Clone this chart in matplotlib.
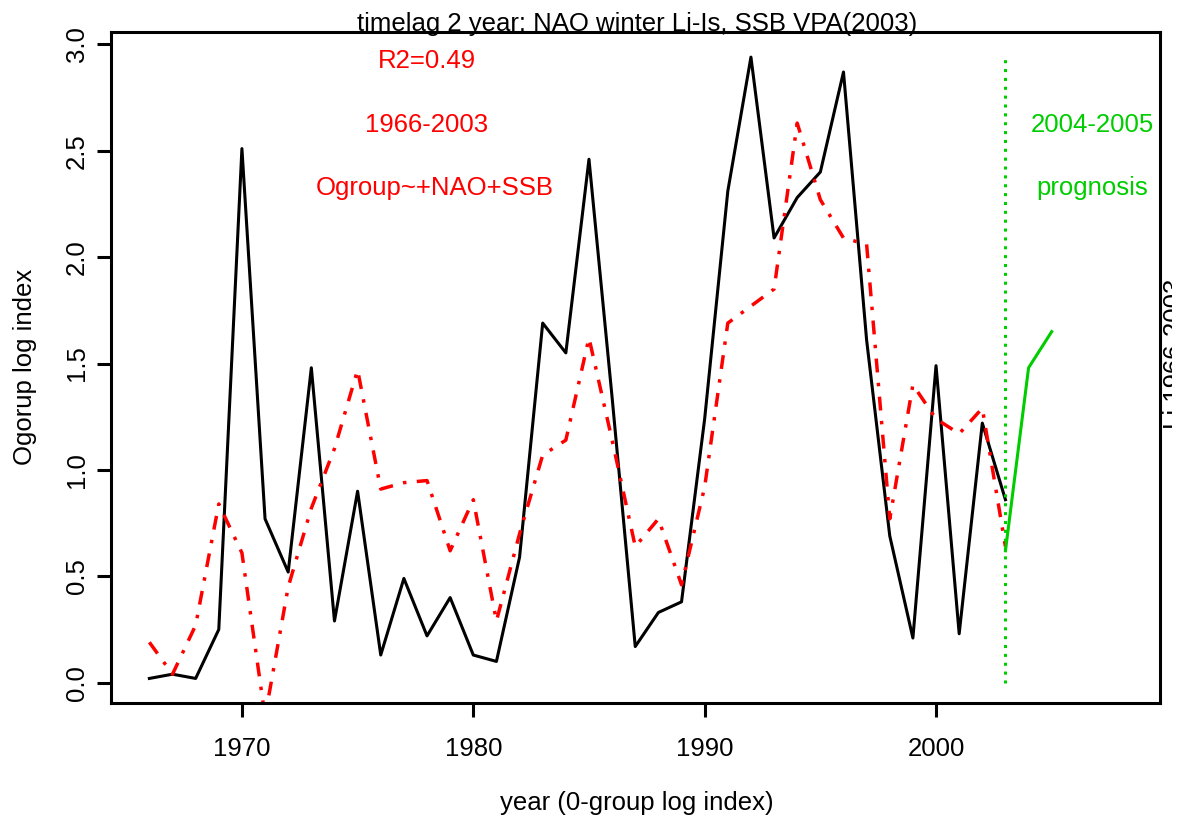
import numpy as np
import matplotlib.pyplot as plt
from matplotlib.transforms import Bbox

plt.rcParams['font.family'] = ['Liberation Sans', 'DejaVu Sans']

# 0-group log index (observed) and fitted values from Ogroup~+NAO+SSB
years = np.arange(1966, 2004)
ogroup = [0.02, 0.04, 0.02, 0.25, 2.51, 0.77, 0.52, 1.48, 0.29, 0.90,
          0.13, 0.49, 0.22, 0.40, 0.13, 0.10, 0.59, 1.69, 1.55, 2.46,
          1.34, 0.17, 0.33, 0.38, 1.24, 2.31, 2.94, 2.09, 2.28, 2.40,
          2.87, 1.61, 0.69, 0.21, 1.49, 0.23, 1.22, 0.86]
fitted = [0.19, 0.04, 0.27, 0.84, 0.61, -0.16, 0.45, 0.82, 1.10, 1.47,
          0.91, 0.94, 0.95, 0.62, 0.86, 0.29, 0.70, 1.07, 1.14, 1.62,
          1.14, 0.64, 0.77, 0.46, 0.92, 1.69, 1.77, 1.85, 2.63, 2.27,
          2.09, 2.06, 0.77, 1.40, 1.24, 1.17, 1.29, 0.64]

# prognosis 2004-2005, starting from last fitted year
prog_years = [2003, 2004, 2005]
prog_vals = [0.62, 1.48, 1.65]

W, H = 1179, 821
fig = plt.figure(figsize=(W / 100, H / 100), dpi=100)
ax = fig.add_axes([110.5 / W, 1 - 702.7 / H, (1160 - 110.5) / W, (702.7 - 32) / H])

lw = 2.2
ax.plot(years, ogroup, color='black', lw=lw)
ax.plot(years, fitted, color='#ff0000', lw=lw + 0.3, linestyle=(0, (4, 3, 1, 3)))
ax.plot(prog_years, prog_vals, color='#00cd00', lw=lw)
ax.plot([2003, 2003], [0, max(ogroup)], color='#00cd00', lw=lw,
        linestyle=(0, (1, 1.9)))

ax.set_xlim(1964.32, 2009.68)
ax.set_ylim(-0.094, 3.058)
ax.set_xticks([1970, 1980, 1990, 2000])
ax.set_yticks(np.arange(0, 3.01, 0.5))
ax.set_yticklabels(['%.1f' % v for v in np.arange(0, 3.01, 0.5)],
                   rotation=90, va='center')
fs = 18.5
ax.tick_params(axis='x', length=10, width=lw, labelsize=fs, pad=14.5)
ax.tick_params(axis='y', length=10, width=lw, labelsize=fs, pad=5.5)
for s in ax.spines.values():
    s.set_linewidth(lw)

red = '#ff0000'
green = '#00cd00'
ax.text(1978, 2.887, 'R2=0.49', color=red, fontsize=fs, ha='center', va='baseline')
ax.text(1978, 2.587, '1966-2003', color=red, fontsize=fs, ha='center', va='baseline')
ax.text(1978.35, 2.29, 'Ogroup~+NAO+SSB', color=red, fontsize=fs, ha='center', va='baseline')
ax.text(2006.74, 2.587, '2004-2005', color=green, fontsize=fs, ha='center', va='baseline')
ax.text(2006.74, 2.29, 'prognosis', color=green, fontsize=fs, ha='center', va='baseline')

fig.text(637 / W, 1 - 30.5 / H, 'timelag 2 year: NAO winter Li-Is, SSB VPA(2003)',
         fontsize=fs, ha='center', va='baseline')
fig.text(637 / W, 1 - 803 / H, 'year (0-group log index)', fontsize=fs,
         ha='center', va='center')
fig.text(25 / W, 1 - 367 / H, 'Ogorup log index', fontsize=fs, rotation=90,
         ha='center', va='center')

# side label runs off the device edge, only the glyph tops show
side = fig.text(1162.5 / W, 1 - 354 / H, 'Li 1966-2003', fontsize=fs, rotation=90,
                ha='left', va='center')
side.set_clip_box(Bbox.from_extents(1160, 0, 1172, H))
side.set_clip_on(True)

fig.savefig('out.png', dpi=100)
